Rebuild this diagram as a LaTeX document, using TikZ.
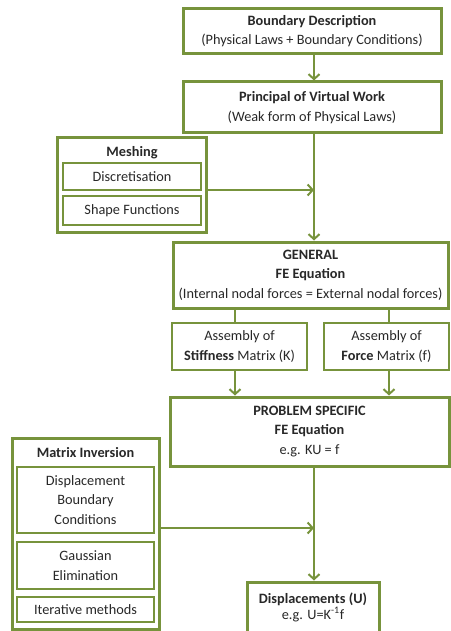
\documentclass[tikz,border=0pt]{standalone}
\usepackage{fontspec}
\setmainfont{Carlito}
\usetikzlibrary{arrows.meta}
\definecolor{olive}{RGB}{119,147,60}
\definecolor{ink}{RGB}{40,40,40}
\begin{document}
\begin{tikzpicture}[x=1pt,y=-1pt,
  every node/.style={font=\fontsize{14.3}{19.5}\selectfont, text=ink},
  outerbox/.style={draw=olive, line width=3pt, fill=white, align=center, inner sep=0pt, minimum width=#1},
  innerbox/.style={draw=olive, line width=2pt, fill=white, align=center, inner sep=0pt, minimum width=#1},
  link/.style={draw=olive, line width=2pt},
  arr/.style={link, -{Straight Barb[length=5pt,width=11pt,line width=2pt]}}]
\useasboundingbox (0,0) rectangle (450,631);
% main chain
\node[outerbox=258, minimum height=45] (bound) at (312,31)
  {\textbf{Boundary Description}\\(Physical Laws + Boundary Conditions)};
\node[outerbox=258, minimum height=51] (pvw) at (312,107.5)
  {\textbf{Principal of Virtual Work}\\(Weak form of Physical Laws)};
% meshing group
\node[outerbox=149, minimum height=94] (mesh) at (131.5,185) {};
\node[font=\fontsize{14.3}{19.5}\selectfont\bfseries] (meshlbl) at (132,153) {Meshing};
\node[innerbox=138, minimum height=27] (disc) at (132,176.5) {Discretisation};
\node[innerbox=138, minimum height=29] (shape) at (132,210.5) {Shape Functions};
% general equation
\node[outerbox=275, minimum height=66] (gen) at (310.5,275)
  {\textbf{GENERAL}\\\textbf{FE Equation}\\(Internal nodal forces = External nodal forces)};
\node[innerbox=135, minimum height=47] (stiff) at (239.5,346.5)
  {Assembly of\\\textbf{Stiffness} Matrix (K)};
\node[innerbox=125, minimum height=47] (force) at (386.5,346.5)
  {Assembly of\\\textbf{Force} Matrix (f)};
\node[outerbox=279, minimum height=69] (prob) at (309.5,431.5)
  {\textbf{PROBLEM SPECIFIC}\\\textbf{FE Equation}\\e.g. KU = f};
% matrix inversion group
\node[outerbox=147, minimum height=191] (minv) at (85.5,533.5) {};
\node[font=\fontsize{14.3}{19.5}\selectfont\bfseries] (minvlbl) at (85.5,453) {Matrix Inversion};
\node[innerbox=137, minimum height=66] (dbc) at (85.5,500)
  {Displacement\\Boundary\\Conditions};
\node[innerbox=137, minimum height=47] (gauss) at (85.5,565.5)
  {Gaussian\\Elimination};
\node[innerbox=137, minimum height=25] (iter) at (85.5,609.5) {Iterative methods};
\node[outerbox=132, minimum height=50, font=\fontsize{14.3}{16}\selectfont] (disp) at (313,607)
  {\textbf{Displacements (U)}\\e.g. U=K\textsuperscript{-1}f};
% guide coordinates for the vertical runs
\coordinate (trunk) at (314,0);
\coordinate (kx) at (235,0);
\coordinate (fx) at (389,0);
\coordinate (meshin) at (314,190);
\coordinate (minvin) at (314,528);
% connectors
\draw[arr] (bound.south -| trunk) -- (pvw.north -| trunk);
\draw[arr] (pvw.south -| trunk) -- (gen.north -| trunk);
\draw[arr] (mesh.east |- meshin) -- (meshin);
\draw[link] (gen.south -| kx) -- (stiff.north -| kx);
\draw[link] (gen.south -| fx) -- (force.north -| fx);
\draw[arr] (stiff.south -| kx) -- (prob.north -| kx);
\draw[arr] (force.south -| fx) -- (prob.north -| fx);
\draw[arr] (prob.south -| trunk) -- (disp.north -| trunk);
\draw[arr] (minv.east |- minvin) -- (minvin);
\end{tikzpicture}
\end{document}
